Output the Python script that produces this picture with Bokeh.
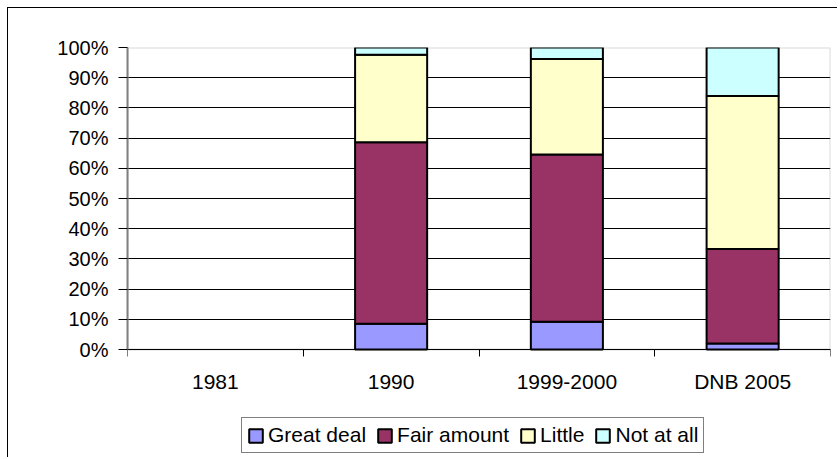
from bokeh.plotting import figure
from bokeh.models import (ColumnDataSource, FixedTicker, PrintfTickFormatter, Range1d,
                          Legend, LegendItem, BoxAnnotation)
from bokeh.embed import file_html
from bokeh.resources import INLINE

nan = float("nan")

# ---- data (percent of respondents) ----
categories = ["1981", "1990", "1999-2000", "DNB 2005"]
series_names = ["Great deal", "Fair amount", "Little", "Not at all"]
great_deal = [nan, 8.5, 9.2, 2.0]
fair_amount = [nan, 60.1, 55.4, 31.3]
little = [nan, 29.0, 31.6, 50.6]
not_at_all = [nan, 2.4, 3.8, 16.1]
y_ticks = [0, 10, 20, 30, 40, 50, 60, 70, 80, 90, 100]

colors = ["#9999FF", "#993366", "#FFFFCC", "#CCFFFF"]
FONT = "Liberation Sans"
FS_Y = "20px"
FS = "21px"

# layout (pixels): plot area is 703 x 302, the frame continues below it
PLOT_H = 302
FRAME_H = 411
Y_MIN = -100.0 * (FRAME_H - PLOT_H) / PLOT_H

xs = [i + 0.5 for i in range(len(categories))]
source = ColumnDataSource(dict(
    x=xs,
    great=great_deal,
    fair=fair_amount,
    little=little,
    notatall=not_at_all,
))

p = figure(width=830, height=450, output_backend="svg", toolbar_location=None,
           x_range=Range1d(0, len(categories)), y_range=Range1d(Y_MIN, 100),
           min_border_left=119, min_border_right=8, min_border_top=39,
           min_border_bottom=0, background_fill_color="white",
           border_fill_color="white")
p.styles = {"margin-left": "7px", "margin-top": "7px",
            "border-left": "1px solid black", "border-top": "1px solid black"}
p.outline_line_color = None

# gray border of the plot area
p.add_layout(BoxAnnotation(left=0, right=len(categories), bottom=0, top=100,
                           fill_color=None, line_color="#808080", line_width=2,
                           level="underlay"))

p.xgrid.visible = False
p.ygrid.ticker = FixedTicker(ticks=y_ticks)
p.ygrid.grid_line_color = "black"
p.ygrid.grid_line_width = 1

renderers = p.vbar_stack(["great", "fair", "little", "notatall"], x="x", width=0.41,
                         source=source, fill_color=colors, line_color="black",
                         line_width=2)

# y axis
yax = p.yaxis[0]
yax.ticker = FixedTicker(ticks=y_ticks)
yax.bounds = (0, 100)
yax.formatter = PrintfTickFormatter(format="%d%%")
yax.axis_line_color = "#808080"
yax.axis_line_width = 2
yax.major_tick_line_color = "black"
yax.major_tick_out = 9
yax.major_tick_in = 0
yax.minor_tick_line_color = None
yax.major_label_standoff = 10
yax.major_label_text_font = FONT
yax.major_label_text_font_size = FS_Y
yax.major_label_text_color = "black"

# x axis at 0%: labels at centers, ticks at category boundaries
xax = p.xaxis[0]
xax.fixed_location = 0
xax.ticker = FixedTicker(ticks=xs, minor_ticks=list(range(len(categories) + 1)))
xax.major_label_overrides = {x: c for x, c in zip(xs, categories)}
xax.axis_line_color = "black"
xax.axis_line_width = 1
xax.major_tick_line_color = None
xax.major_tick_out = 7
xax.major_tick_in = 0
xax.minor_tick_line_color = "black"
xax.minor_tick_out = 7
xax.minor_tick_in = 0
xax.major_label_standoff = 13
xax.major_label_text_font = FONT
xax.major_label_text_font_size = FS
xax.major_label_text_color = "black"

legend = Legend(items=[LegendItem(label=n, renderers=[r]) for n, r in zip(series_names, renderers)],
                location=(114, 5), orientation="horizontal",
                border_line_color="black", border_line_width=1,
                background_fill_color="white", background_fill_alpha=1.0,
                glyph_width=17, glyph_height=17, label_standoff=4, spacing=10,
                padding=5, label_height=20, margin=0,
                label_text_font=FONT, label_text_font_size=FS, label_text_color="black")
p.add_layout(legend)

open("out.html", "w").write(file_html(p, INLINE))
